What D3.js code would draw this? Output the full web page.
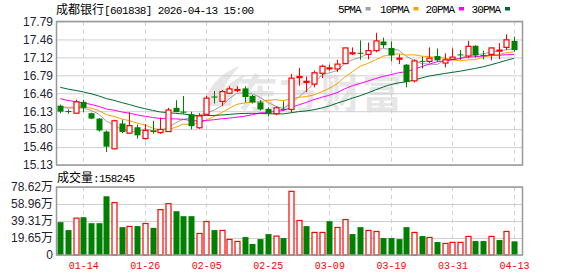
<!DOCTYPE html>
<html><head><meta charset="utf-8">
<script src="https://cdn.jsdelivr.net/npm/d3@7"></script>
<style>html,body{margin:0;padding:0;background:#fff;}svg{display:block;}</style>
</head><body>
<svg id="c" width="578" height="276"></svg>
<script>
// ---- data ----
const dates = ["01-09","01-12","01-13","01-14","01-15","01-16","01-19","01-20","01-21","01-22","01-23","01-26","01-27","01-28","01-29","01-30","02-02","02-03","02-04","02-05","02-06","02-09","02-10","02-11","02-12","02-13","02-24","02-25","02-26","02-27","03-02","03-03","03-04","03-05","03-06","03-09","03-10","03-11","03-12","03-13","03-16","03-17","03-18","03-19","03-20","03-23","03-24","03-25","03-26","03-27","03-30","03-31","04-01","04-02","04-03","04-07","04-08","04-09","04-10","04-13"];
const opens = [16.23,16.13,16.09,16.30,16.09,15.99,15.75,15.43,15.90,15.72,15.83,15.62,15.77,15.73,15.75,16.19,16.12,16.07,15.82,16.07,16.40,16.31,16.46,16.51,16.55,16.41,16.29,16.17,16.08,16.17,16.16,16.75,16.67,16.63,16.83,16.92,16.91,17.01,17.20,17.21,17.18,17.25,17.42,17.30,17.10,16.99,16.69,17.06,17.05,17.15,17.02,17.09,17.18,17.15,17.34,17.17,17.18,17.24,17.31,17.43];
const closes = [16.12,16.12,16.30,16.19,15.99,15.77,15.47,15.95,15.74,15.86,15.68,15.77,15.74,15.79,16.15,16.11,16.10,15.85,16.04,16.37,16.38,16.49,16.54,16.53,16.39,16.29,16.16,16.08,16.19,16.16,16.74,16.77,16.68,16.84,16.96,16.93,17.00,17.30,17.21,17.19,17.25,17.43,17.35,17.16,17.11,16.67,17.06,17.05,17.11,17.07,17.08,17.13,17.17,17.33,17.16,17.16,17.30,17.26,17.45,17.26];
const highs = [16.25,16.16,16.34,16.34,16.10,16.00,15.77,15.97,15.97,16.11,15.88,15.89,15.95,16.01,16.19,16.33,16.41,16.12,16.09,16.41,16.50,16.52,16.59,16.59,16.59,16.43,16.33,16.20,16.22,16.31,16.82,16.93,16.77,16.88,16.99,16.99,17.08,17.31,17.31,17.44,17.40,17.58,17.49,17.42,17.18,17.00,17.09,17.14,17.31,17.29,17.20,17.29,17.26,17.43,17.35,17.25,17.31,17.39,17.55,17.51];
const lows = [16.09,16.08,16.09,16.11,15.98,15.75,15.37,15.42,15.72,15.71,15.62,15.60,15.71,15.71,15.75,16.11,16.08,15.79,15.80,16.06,16.27,16.22,16.45,16.48,16.29,16.27,16.14,16.03,16.05,16.14,16.11,16.60,16.48,16.57,16.74,16.88,16.85,17.00,17.17,17.08,17.09,17.22,17.30,17.05,17.00,16.57,16.66,16.92,17.02,17.05,16.94,17.08,17.08,17.11,17.12,17.09,17.07,17.09,17.26,17.23];
// volume in 万 shares
const volumes = [37.97,28.8,42.6,43.7,36.8,36.8,67.9,60.6,32.2,33.0,33.4,36.4,31.4,52.5,59.4,50.6,44.9,44.9,24.9,38.7,28.8,28.4,18.0,15.7,20.7,12.7,18.4,24.2,21.9,19.6,73.6,39.9,33.4,26.1,26.1,39.1,31.8,41.0,24.2,32.2,28.4,27.2,19.6,19.6,18.4,32.2,26.1,21.9,20.3,15.0,13.4,14.6,14.6,21.5,16.1,16.1,21.5,17.3,27.2,15.8245];
const volUp = [0,0,1,0,0,0,0,1,0,1,0,1,0,1,1,0,0,0,1,1,0,1,1,1,0,0,0,0,1,0,1,1,0,1,1,0,1,1,0,0,1,1,0,0,0,0,1,0,1,0,1,1,1,1,0,0,1,0,1,0];
// closes of the 29 sessions before the first shown day (estimated so the MAs match)
const priorCloses = [17.10,17.05,17.02,17.00,16.98,16.96,16.95,16.97,16.95,16.92,16.80,16.72,16.65,16.55,16.50,16.45,16.40,16.38,16.35,16.30,16.25,16.20,16.18,16.22,16.20,16.25,16.28,16.22,16.18];
const priceTickLabels = ["15.13","15.46","15.80","16.13","16.46","16.79","17.12","17.46","17.79"];
const volTickLabels = ["0","19.65万","39.31万","58.96万","78.62万"];
const xTickLabels = ["01-14","01-26","02-05","02-25","03-09","03-19","03-31","04-13"];
const maPeriods = [5,10,20,30];
const maNames = ["5PMA","10PMA","20PMA","30PMA"];
const maColors = ["#a0a0a0","#f5a400","#ff00ff","#006b30"];
const title = "成都银行";
const titleRest = "[601838] 2026-04-13 15:00";
const volTitle = "成交量:158245";

// ---- layout ----
const svg = d3.select("#c");
const L = 56, R = 522, T = 21.5, B = 165, VT = 187, VB = 255;
const x = d3.scaleLinear().domain([-0.55, 60.05]).range([L, R]);
const y = d3.scaleLinear().domain([15.13, 17.79]).range([B, T]);
const yv = d3.scaleLinear().domain([0, 78.62]).range([VB, VT]);
const RED = "#ff0000", GREEN = "#008000", GRID = "#cfcfcf", BORDER = "#999";

// watermark
const wm = svg.append("g");
wm.append("text").attr("x", 238).attr("y", 108).attr("font-family", "Noto Sans CJK SC").attr("font-weight", "bold")
  .attr("font-size", 40).attr("fill", "#e6e6e6").attr("textLength", 164).text("东方财富");
wm.append("path").attr("d", "M203,106 C208,86 222,72 240,66 C229,77 221,90 219,106 Z M213,106 C221,89 232,80 245,75 C236,87 232,96 231,106 Z")
  .attr("fill", "#e6e6e6");

// grids
const priceTicks = priceTickLabels.map((_, k) => 15.13 + k * (2.66 / 8));
const volTicks = volTickLabels.map((_, k) => k * 78.62 / 4);
const xTickIdx = xTickLabels.map(l => dates.indexOf(l));

const gy = d3.axisLeft(y).tickValues(priceTicks).tickSize(-(R - L)).tickFormat((d, i) => priceTickLabels[i]);
const gAx = svg.append("g").attr("transform", `translate(${L},0)`).call(gy);
gAx.select(".domain").remove();
gAx.selectAll(".tick line").attr("stroke", GRID);
gAx.selectAll(".tick text").attr("font-family", "Liberation Sans, Arial").attr("font-size", 12).attr("fill", "#1f1f33").attr("x", -3);

const gv = d3.axisLeft(yv).tickValues(volTicks).tickSize(-(R - L)).tickFormat((d, i) => volTickLabels[i]);
const vAx = svg.append("g").attr("transform", `translate(${L},0)`).call(gv);
vAx.select(".domain").remove();
vAx.selectAll(".tick line").attr("stroke", GRID);
vAx.selectAll(".tick text").attr("font-family", "Liberation Sans, Arial, Noto Sans CJK SC").attr("font-size", 12).attr("fill", "#1f1f33").attr("x", -3);

// vertical dashed grids in both panels
[[T, B], [VT, VB]].forEach(([a, b]) => {
  svg.append("g").selectAll("line").data(xTickIdx).join("line")
    .attr("x1", d => Math.round(x(d)) + 0.5).attr("x2", d => Math.round(x(d)) + 0.5)
    .attr("y1", a).attr("y2", b).attr("stroke", GRID).attr("stroke-dasharray", "4,4");
});

// x labels
const gx = d3.axisBottom(x).tickValues(xTickIdx).tickSize(0).tickFormat((d, i) => xTickLabels[i]);
const xAx = svg.append("g").attr("transform", `translate(0,${VB})`).call(gx);
xAx.select(".domain").remove();
xAx.selectAll(".tick text").attr("font-family", "Liberation Mono, monospace").attr("font-size", 10).attr("fill", RED).attr("dy", "0").attr("y", 14);

// MA lines
const allCloses = priorCloses.concat(closes);
const off = priorCloses.length;
maPeriods.forEach((p, k) => {
  const pts = closes.map((_, i) => {
    const j = i + off;
    return [i, d3.mean(allCloses.slice(j - p + 1, j + 1))];
  });
  svg.append("path").datum(pts).attr("fill", "none").attr("stroke", maColors[k]).attr("stroke-width", 1)
    .attr("d", d3.line().x(d => x(d[0])).y(d => y(d[1])));
});

// candles
const cw = 5;
const cg = svg.append("g");
closes.forEach((c, i) => {
  const o = opens[i], up = c >= o;
  const col = up ? RED : GREEN;
  const cx = Math.round(x(i)) + 0.5;
  const top = y(Math.max(o, c)), bot = y(Math.min(o, c));
  if (up) {
    cg.append("line").attr("x1", cx).attr("x2", cx).attr("y1", y(highs[i])).attr("y2", top).attr("stroke", col);
    cg.append("line").attr("x1", cx).attr("x2", cx).attr("y1", bot).attr("y2", y(lows[i])).attr("stroke", col);
  } else {
    cg.append("line").attr("x1", cx).attr("x2", cx).attr("y1", y(highs[i])).attr("y2", y(lows[i])).attr("stroke", col);
  }
  const h = Math.max(bot - top, 1);
  if (up) {
    cg.append("rect").attr("x", cx - cw / 2).attr("y", top).attr("width", cw).attr("height", h)
      .attr("fill", "#fff").attr("stroke", col).attr("stroke-width", 1.2);
  } else {
    cg.append("rect").attr("x", cx - cw / 2 - 0.5).attr("y", top).attr("width", cw + 1).attr("height", h).attr("fill", col);
  }
});

// volume bars
const vg = svg.append("g");
volumes.forEach((v, i) => {
  const cx = Math.round(x(i)) + 0.5;
  if (volUp[i]) {
    vg.append("rect").attr("x", cx - cw / 2).attr("y", yv(v)).attr("width", cw).attr("height", VB - yv(v))
      .attr("fill", "#fff").attr("stroke", RED).attr("stroke-width", 1.2);
  } else {
    vg.append("rect").attr("x", cx - cw / 2 - 0.5).attr("y", yv(v)).attr("width", cw + 1).attr("height", VB - yv(v)).attr("fill", GREEN);
  }
});

// borders
svg.append("rect").attr("x", L + 0.5).attr("y", T).attr("width", R - L).attr("height", B - T).attr("fill", "none").attr("stroke", BORDER).attr("stroke-width", 1.5);
svg.append("rect").attr("x", L + 0.5).attr("y", VT).attr("width", R - L).attr("height", VB - VT).attr("fill", "none").attr("stroke", BORDER).attr("stroke-width", 1.5);

// title
const t = svg.append("text").attr("x", 56).attr("y", 13.5).attr("fill", "#000");
t.append("tspan").attr("font-family", "Noto Sans CJK SC").attr("font-size", 12).text(title);
t.append("tspan").attr("font-family", "Liberation Mono, monospace").attr("font-size", 11).attr("textLength", 150).text(titleRest);

// legend
const legX = [338, 380, 425.5, 471.5];
maNames.forEach((n, k) => {
  svg.append("text").attr("x", legX[k]).attr("y", 13).attr("font-family", "Liberation Mono, monospace")
    .attr("font-size", 11).attr("fill", "#000").attr("textLength", n.length * 5.9).text(n);
  svg.append("rect").attr("x", legX[k] + n.length * 5.9 + 4).attr("y", 7).attr("width", 5).attr("height", 3.5).attr("fill", maColors[k]);
});

// volume title
const vt = svg.append("text").attr("x", 57).attr("y", 182).attr("fill", "#000");
vt.append("tspan").attr("font-family", "Noto Sans CJK SC").attr("font-size", 12).text(volTitle.slice(0, 3));
vt.append("tspan").attr("font-family", "Liberation Mono, monospace").attr("font-size", 11).attr("textLength", 42).text(volTitle.slice(3));
</script>
</body></html>
